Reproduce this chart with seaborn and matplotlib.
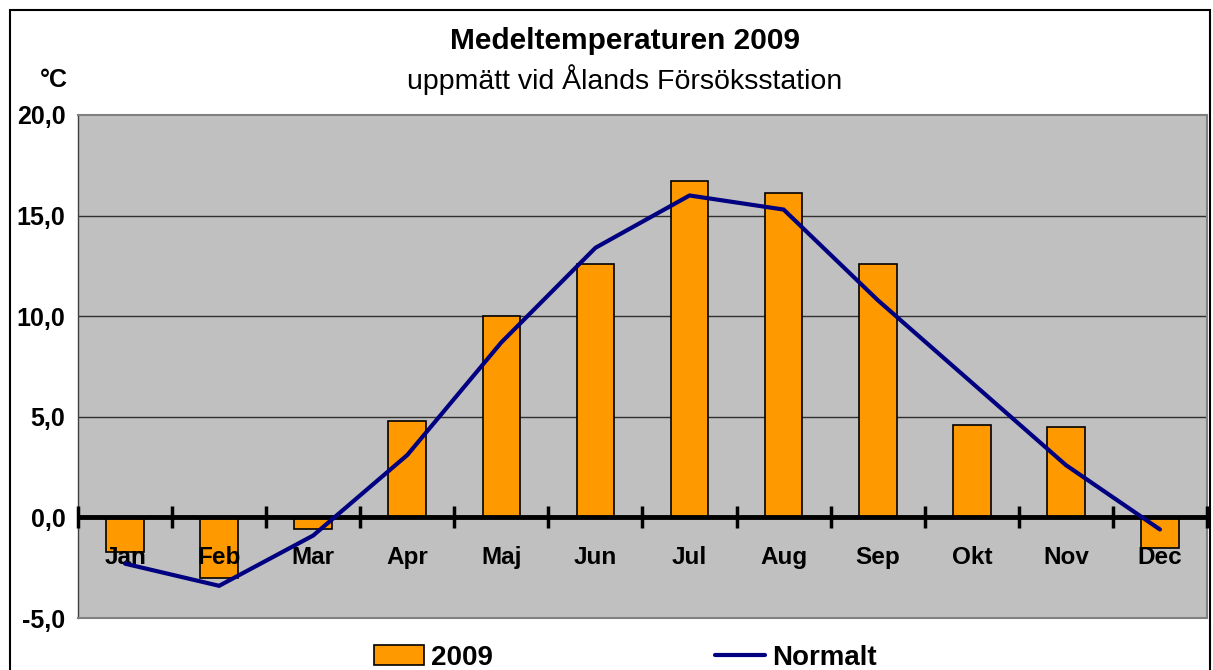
import matplotlib
matplotlib.use("Agg")
import matplotlib.pyplot as plt
import seaborn as sns
import pandas as pd
from matplotlib.ticker import FuncFormatter, FixedLocator
from matplotlib.lines import Line2D
from matplotlib.patches import Patch, Rectangle

months = ["Jan", "Feb", "Mar", "Apr", "Maj", "Jun", "Jul", "Aug", "Sep", "Okt", "Nov", "Dec"]
temp_2009 = [-1.7, -3.0, -0.6, 4.8, 10.0, 12.6, 16.7, 16.1, 12.6, 4.6, 4.5, -1.5]
normalt = [-2.3, -3.4, -0.9, 3.1, 8.7, 13.4, 16.0, 15.3, 10.8, 6.7, 2.6, -0.6]
yticks = [-5, 0, 5, 10, 15, 20]

df = pd.DataFrame({"month": months, "t2009": temp_2009, "normalt": normalt})

sns.set_theme(style="white")
plt.rcParams["font.family"] = ["Liberation Sans", "DejaVu Sans"]
plt.rcParams["text.color"] = "black"
plt.rcParams["xtick.color"] = "black"
plt.rcParams["ytick.color"] = "black"
plt.rcParams["xtick.labelcolor"] = "black"
plt.rcParams["ytick.labelcolor"] = "black"

fig = plt.figure(figsize=(12.13, 6.70), dpi=100)
ax = fig.add_axes([78 / 1213, 1 - 618 / 670, (1207 - 78) / 1213, (618 - 115) / 670])
ax.set_facecolor("#C0C0C0")

sns.barplot(data=df, x="month", y="t2009", color="#FF9900", edgecolor="black",
            linewidth=1.2, width=0.4, saturation=1, ax=ax, zorder=3)
ax.plot(range(len(months)), df["normalt"], color="#000080", linewidth=3, zorder=8,
        solid_joinstyle="miter")

ax.set_xlim(-0.5, len(months) - 0.5)
ax.set_ylim(-5, 20)
ax.set_xlabel("")
ax.set_ylabel("")

# horizontal gridlines
for v in [5, 10, 15]:
    ax.axhline(v, color="#303030", linewidth=1, zorder=1)
ax.axhline(0, color="black", linewidth=3.5, zorder=5)

# y axis
ax.yaxis.set_major_locator(FixedLocator(yticks))
ax.yaxis.set_major_formatter(FuncFormatter(lambda v, p: f"{v:.1f}".replace(".", ",")))
ax.tick_params(axis="y", which="major", direction="out", length=6, width=1, color="#404040",
               labelsize=18, pad=3)
for lbl in ax.get_yticklabels():
    lbl.set_fontweight("bold")

# x axis: labels centered, tick marks at boundaries on the zero line
ax.set_xticks(range(len(months)))
ax.set_xticklabels(months, fontsize=17.5, fontweight="bold")
ax.tick_params(axis="x", which="major", length=0, pad=-52)
ax.xaxis.set_zorder(7)
for b in [i - 0.5 for i in range(len(months) + 1)]:
    ax.plot([b, b], [-0.55, 0.55], color="black", linewidth=2.5, zorder=6, clip_on=False,
            solid_capstyle="butt")

for side in ["top", "right", "bottom"]:
    ax.spines[side].set_color("#808080")
    ax.spines[side].set_linewidth(1.5)
ax.spines["left"].set_color("#404040")
ax.spines["left"].set_linewidth(1)

# titles
fig.text(0.515, 1 - 41 / 670, "Medeltemperaturen 2009", ha="center", va="center",
         fontsize=21.5, fontweight="bold")
fig.text(0.515, 1 - 80 / 670, "uppmätt vid Ålands Försöksstation", ha="center", va="center",
         fontsize=20.5)
fig.text(54 / 1213, 1 - 80 / 670, "°C", ha="center", va="center", fontsize=18, fontweight="bold")

# legend
handles = [Patch(facecolor="#FF9900", edgecolor="black", linewidth=1.2),
           Line2D([0], [0], color="#000080", linewidth=3)]
fig.legend(handles, ["2009", "Normalt"], loc="center", bbox_to_anchor=(0.5157, 1 - 658 / 670),
           ncol=2, frameon=False, prop={"size": 20, "weight": "bold"},
           handlelength=1.8, handleheight=0.75, columnspacing=8.0, handletextpad=0.25)

# outer frame
fig.add_artist(Rectangle((10 / 1213, -0.05), 1200 / 1213, 1.05 - 10 / 670,
                         transform=fig.transFigure, fill=False, edgecolor="black",
                         linewidth=1.5))

fig.savefig("out.png", dpi=100)
